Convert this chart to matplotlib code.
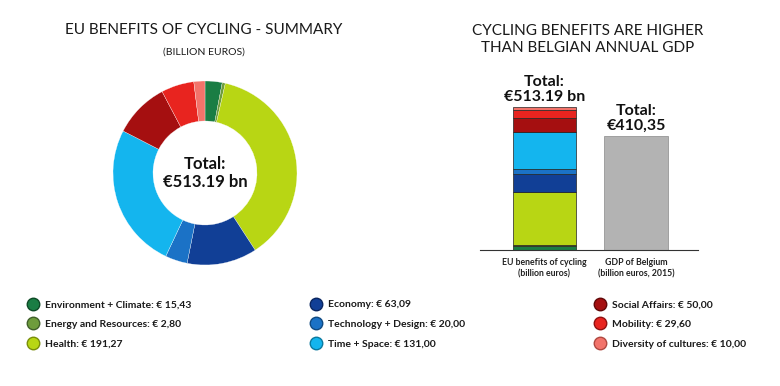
import matplotlib
matplotlib.use("Agg")
import matplotlib.pyplot as plt
from matplotlib.lines import Line2D
import numpy as np

plt.rcParams['font.family'] = ['Lato', 'DejaVu Sans']

categories = ["Environment + Climate", "Energy and Resources", "Health",
              "Economy", "Technology + Design", "Time + Space",
              "Social Affairs", "Mobility", "Diversity of cultures"]
values = [15.43, 2.80, 191.27, 63.09, 20.00, 131.00, 50.00, 29.60, 10.00]
value_labels = ["15,43", "2,80", "191,27", "63,09", "20,00", "131,00",
                "50,00", "29,60", "10,00"]
colors = ["#1a7d44", "#6e9c3c", "#b8d614", "#113f96", "#1b72c6", "#14b5ee",
          "#a50f10", "#e8241f", "#f2736a"]
edge_colors = ["#0d4a26", "#40602a", "#7a8f0a", "#0a2660", "#104a82", "#0b7aa0",
               "#600808", "#901010", "#b04840"]
bar_names = ["EU benefits of cycling\n(billion euros)",
             "GDP of Belgium\n(billion euros, 2015)"]
gdp_belgium = 410.35
total = 513.19

W, H = 780, 386
fig = plt.figure(figsize=(W / 100, H / 100), dpi=100)

def fx(px):
    return px / W

def fy(py):
    return 1 - py / H

# ---- Donut ----
cx, cy, R = 205, 173, 100
ax1 = fig.add_axes([fx(cx - R), fy(cy + R), 2 * R / W, 2 * R / H])
ax1.pie(values, colors=colors, startangle=90, counterclock=False,
        radius=0.92, wedgeprops=dict(width=0.40, edgecolor='white', linewidth=0.2))
ax1.set_xlim(-1, 1)
ax1.set_ylim(-1, 1)
ax1.set_aspect('auto')
ax1.axis('off')
ax1.text(0, 0, "Total:\n€513.19 bn", ha='center', va='center',
         fontsize=12, fontweight='bold', linespacing=1.15, color='#111111')

fig.text(fx(204), fy(30), "EU BENEFITS OF CYCLING - SUMMARY", ha='center',
         va='center', fontsize=11, color='#1a1a1a')
fig.text(fx(204), fy(52), "(BILLION EUROS)", ha='center', va='center',
         fontsize=7.5, color='#1a1a1a')

# ---- Bar chart ----
ax2 = fig.add_axes([fx(480), fy(250), 218 / W, 167 / H])
bottom = 0.0
for v, c in zip(values, colors):
    ax2.bar(0, v, bottom=bottom, width=0.69, color=c, edgecolor='#222222',
            linewidth=0.5)
    bottom += v
ax2.bar(1, gdp_belgium, width=0.69, color='#b3b3b3', edgecolor='#8a8a8a',
        linewidth=0.5)
ax2.set_xlim(-0.705, 1.678)
ax2.set_ylim(0, 600)
for s in ['top', 'right', 'left']:
    ax2.spines[s].set_visible(False)
ax2.spines['bottom'].set_color('#333333')
ax2.spines['bottom'].set_linewidth(0.8)
ax2.set_yticks([])
ax2.set_xticks([0, 1])
ax2.set_xticklabels(bar_names, fontsize=6.3, fontweight='bold', color='#222222',
                    linespacing=1.25)
ax2.tick_params(axis='x', length=0, pad=6)
ax2.text(0, bottom + 12, "Total:\n€513.19 bn", ha='center', va='bottom',
         fontsize=11.5, fontweight='bold', linespacing=1.05, color='#111111')
ax2.text(1, gdp_belgium + 12, "Total:\n€410,35", ha='center', va='bottom',
         fontsize=11.5, fontweight='bold', linespacing=1.05, color='#111111')

fig.text(fx(588), fy(31), "CYCLING BENEFITS ARE HIGHER", ha='center',
         va='center', fontsize=11, color='#1a1a1a')
fig.text(fx(588), fy(48), "THAN BELGIAN ANNUAL GDP", ha='center',
         va='center', fontsize=11, color='#1a1a1a')

# ---- Legends ----
col_x = [28, 311, 595]
for col in range(3):
    handles = []
    labels = []
    for i in range(col * 3, col * 3 + 3):
        handles.append(Line2D([], [], marker='o', linestyle='none',
                              markersize=9, markerfacecolor=colors[i],
                              markeredgecolor=edge_colors[i], markeredgewidth=1))
        labels.append(f"{categories[i]}: € {value_labels[i]}")
    leg = fig.legend(handles, labels, loc='upper left',
                     bbox_to_anchor=(fx(col_x[col]), fy(300)),
                     frameon=False, borderpad=0, borderaxespad=0,
                     handlelength=1.0, handletextpad=0.6, labelspacing=1.0,
                     prop=dict(size=7.5, weight='bold'))
    for t in leg.get_texts():
        t.set_color('#1a1a1a')

fig.savefig("out.png", dpi=100, facecolor='white')
